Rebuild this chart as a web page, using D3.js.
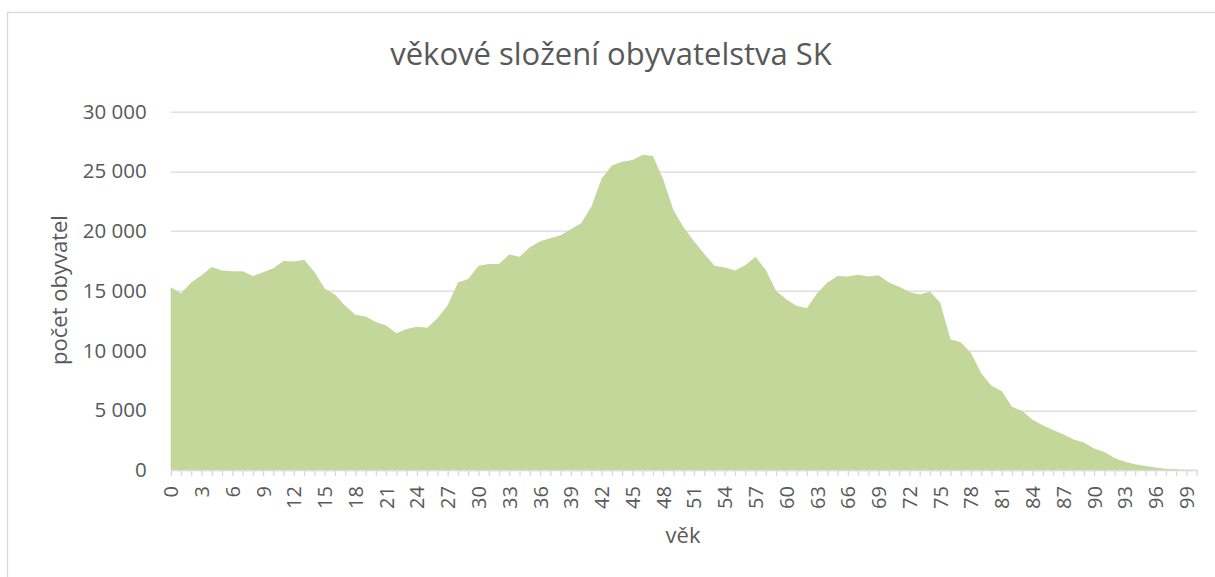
<!DOCTYPE html>
<html>
<head>
<meta charset="utf-8">
<script src="https://cdn.jsdelivr.net/npm/d3@7"></script>
<style>
  body { margin: 0; background: #fff; }
  text { font-family: "Open Sans", sans-serif; fill: #595959; }
</style>
</head>
<body>
<div id="chart-area"></div>
<script>
// age categories (vek)
const ages = [0, 1, 2, 3, 4, 5, 6, 7, 8, 9, 10, 11, 12, 13, 14, 15, 16, 17, 18, 19,
  20, 21, 22, 23, 24, 25, 26, 27, 28, 29, 30, 31, 32, 33, 34, 35, 36, 37, 38, 39,
  40, 41, 42, 43, 44, 45, 46, 47, 48, 49, 50, 51, 52, 53, 54, 55, 56, 57, 58, 59,
  60, 61, 62, 63, 64, 65, 66, 67, 68, 69, 70, 71, 72, 73, 74, 75, 76, 77, 78, 79,
  80, 81, 82, 83, 84, 85, 86, 87, 88, 89, 90, 91, 92, 93, 94, 95, 96, 97, 98, 99, 100];

// pocet obyvatel per age
const population = [15300, 14800, 15700, 16300, 17000, 16700, 16650, 16650, 16250, 16550,
  16900, 17500, 17450, 17600, 16600, 15200, 14700, 13750, 13000, 12850,
  12400, 12100, 11450, 11800, 12000, 11900, 12700, 13800, 15700, 16000,
  17100, 17250, 17250, 18050, 17850, 18650, 19150, 19400, 19650, 20150,
  20650, 22050, 24400, 25500, 25800, 25950, 26400, 26300, 24350, 21750,
  20300, 19150, 18100, 17100, 16950, 16700, 17150, 17850, 16750, 15000,
  14300, 13750, 13550, 14800, 15700, 16250, 16200, 16350, 16200, 16300,
  15700, 15350, 14900, 14700, 14950, 14000, 10950, 10700, 9800, 8100,
  7050, 6600, 5300, 4950, 4200, 3750, 3350, 3000, 2550, 2300,
  1800, 1500, 1000, 700, 480, 330, 200, 110, 60, 30, 10];

const xTickLabels = [0, 3, 6, 9, 12, 15, 18, 21, 24, 27, 30, 33, 36, 39, 42, 45, 48,
  51, 54, 57, 60, 63, 66, 69, 72, 75, 78, 81, 84, 87, 90, 93, 96, 99];
const yTicks = [0, 5000, 10000, 15000, 20000, 25000, 30000];

const full_width = 1215, full_height = 577;
const margin = { left: 170.7, right: 18.3, top: 111.7, bottom: 107 };
const width = full_width - margin.left - margin.right,
      height = full_height - margin.top - margin.bottom;

const svg = d3.select("#chart-area").append("svg")
    .attr("width", full_width).attr("height", full_height);

// chart border
svg.append("rect")
    .attr("x", 7.5).attr("y", 12.5)
    .attr("width", 1230).attr("height", 600)
    .attr("fill", "none").attr("stroke", "#d9d9d9").attr("stroke-width", 1.3);

const g = svg.append("g").attr("transform", "translate(" + margin.left + ", " + margin.top + ")");

const x = d3.scalePoint().domain(ages).range([0, width]);
const y = d3.scaleLinear().domain([0, 30000]).range([height, 0]);

const locale = d3.formatLocale({ decimal: ",", thousands: "\u00a0", grouping: [3], currency: ["", " Kč"] });
const fmt = locale.format(",d");

// gridlines
g.append("g").selectAll("line").data(yTicks.filter(d => d > 0)).enter()
    .append("line")
    .attr("x1", 0).attr("x2", width)
    .attr("y1", d => Math.round(y(d)) + 0.5).attr("y2", d => Math.round(y(d)) + 0.5)
    .attr("stroke", "#d9d9d9").attr("stroke-width", 1.3);

// area
const area = d3.area()
    .x((d, i) => x(ages[i]))
    .y0(height)
    .y1(d => y(d));

g.append("path")
    .datum(population)
    .attr("d", area)
    .attr("fill", "#c4d79b");

// x axis
const xAxisCall = d3.axisBottom(x).tickSizeInner(6).tickSizeOuter(0)
    .tickFormat(d => xTickLabels.includes(d) ? d : "");
const xAxis = g.append("g")
    .attr("class", "x-axis")
    .attr("transform", "translate(0, " + height + ")")
    .call(xAxisCall);
xAxis.select(".domain").attr("stroke", "#d9d9d9").attr("stroke-width", 1.3);
xAxis.selectAll(".tick line").attr("stroke", "#d9d9d9").attr("stroke-width", 1.3);
xAxis.selectAll(".tick text")
    .attr("font-size", "20px")
    .attr("font-family", "Open Sans, sans-serif")
    .attr("fill", "#595959")
    .attr("text-anchor", "end")
    .attr("transform", "rotate(-90)")
    .attr("x", -16)
    .attr("y", 0)
    .attr("dy", "0.35em");

// y axis
const yAxisCall = d3.axisLeft(y).tickValues(yTicks).tickSize(0).tickFormat(fmt);
const yAxis = g.append("g").attr("class", "y-axis").call(yAxisCall);
yAxis.select(".domain").remove();
yAxis.selectAll(".tick text")
    .attr("font-size", "20.5px")
    .attr("font-family", "Open Sans, sans-serif")
    .attr("fill", "#595959")
    .attr("x", -24);

// title
svg.append("text")
    .attr("x", 611)
    .attr("y", 65)
    .attr("font-size", "31px")
    .attr("text-anchor", "middle")
    .text("věkové složení obyvatelstva SK");

// X label
svg.append("text")
    .attr("x", 683)
    .attr("y", 543)
    .attr("font-size", "22px")
    .attr("text-anchor", "middle")
    .text("věk");

// Y label
svg.append("text")
    .attr("x", -290)
    .attr("y", 67)
    .attr("font-size", "22px")
    .attr("text-anchor", "middle")
    .attr("transform", "rotate(-90)")
    .text("počet obyvatel");
</script>
</body>
</html>
